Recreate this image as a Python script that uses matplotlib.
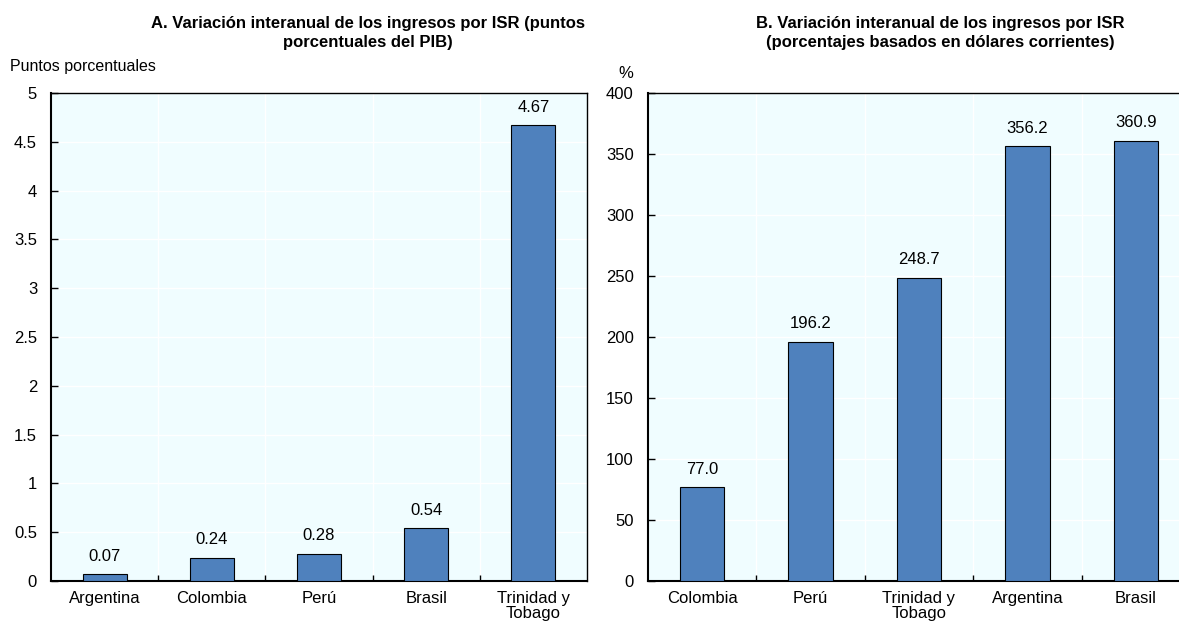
import matplotlib
matplotlib.use("Agg")
import matplotlib.pyplot as plt
import numpy as np

plt.rcParams['font.family'] = ['Liberation Sans', 'DejaVu Sans']

cats_a = ["Argentina", "Colombia", "Perú", "Brasil", "Trinidad y\nTobago"]
vals_a = [0.07, 0.24, 0.28, 0.54, 4.67]
labels_a = ["0.07", "0.24", "0.28", "0.54", "4.67"]

cats_b = ["Colombia", "Perú", "Trinidad y\nTobago", "Argentina", "Brasil"]
vals_b = [77.0, 196.2, 248.7, 356.2, 360.9]
labels_b = ["77.0", "196.2", "248.7", "356.2", "360.9"]

yticks_a = [0, 0.5, 1, 1.5, 2, 2.5, 3, 3.5, 4, 4.5, 5]
yticklabels_a = ["0", "0.5", "1", "1.5", "2", "2.5", "3", "3.5", "4", "4.5", "5"]
yticks_b = [0, 50, 100, 150, 200, 250, 300, 350, 400]

BAR = "#4F81BD"
BG = "#F0FDFF"
FS = 12

fig = plt.figure(figsize=(11.79, 6.22), dpi=100)
axA = fig.add_axes([51/1179, 1-581/622, 536/1179, 488/622])
axB = fig.add_axes([647.75/1179, 1-581/622, 542.5/1179, 488/622])

def style(ax, cats, vals, labels, yticks, yticklabels, ylim, show_right=True):
    x = np.arange(len(cats))
    ax.set_facecolor(BG)
    ax.bar(x, vals, width=0.41, color=BAR, edgecolor="black", linewidth=0.8, zorder=3)
    for xi, v, lab in zip(x, vals, labels):
        ax.annotate(lab, (xi, v), xytext=(0, 7.5), textcoords="offset points",
                    ha="center", va="bottom", fontsize=FS)
    ax.set_xlim(-0.5, len(cats) - 0.5)
    ax.set_ylim(*ylim)
    ax.set_xticks(x)
    ax.set_xticklabels(cats, fontsize=FS, linespacing=1.05)
    ax.tick_params(axis="x", which="major", length=0, pad=7)
    ax.set_xticks(np.arange(len(cats) - 1) + 0.5, minor=True)
    ax.tick_params(axis="x", which="minor", direction="in", length=4, width=1)
    ax.set_yticks(yticks)
    ax.set_yticklabels(yticklabels, fontsize=FS)
    ax.tick_params(axis="y", direction="in", length=5, width=1, pad=10)
    ax.grid(axis="y", which="major", color="white", linewidth=1, zorder=0)
    ax.grid(axis="x", which="minor", color="white", linewidth=1, zorder=0)
    for s in ax.spines.values():
        s.set_color("black")
        s.set_linewidth(1)
    ax.spines["bottom"].set_linewidth(1.5)
    ax.spines["left"].set_linewidth(1.5)
    if not show_right:
        ax.spines["right"].set_visible(False)
    ax.set_axisbelow(True)

style(axA, cats_a, vals_a, labels_a, yticks_a, yticklabels_a, (0, 5))
style(axB, cats_b, vals_b, labels_b, yticks_b, [str(v) for v in yticks_b], (0, 400), show_right=False)

fig.text(368/1179, 1-33/622, "A. Variación interanual de los ingresos por ISR (puntos\nporcentuales del PIB)",
         ha="center", va="center", fontsize=FS, fontweight="bold", linespacing=1.4)
fig.text(940/1179, 1-33/622, "B. Variación interanual de los ingresos por ISR\n(porcentajes basados en dólares corrientes)",
         ha="center", va="center", fontsize=FS, fontweight="bold", linespacing=1.4)
fig.text(10/1179, 1-66/622, "Puntos porcentuales", ha="left", va="center", fontsize=11.5)
fig.text(626/1179, 1-73/622, "%", ha="center", va="center", fontsize=FS)

fig.savefig("out.png", dpi=100)
